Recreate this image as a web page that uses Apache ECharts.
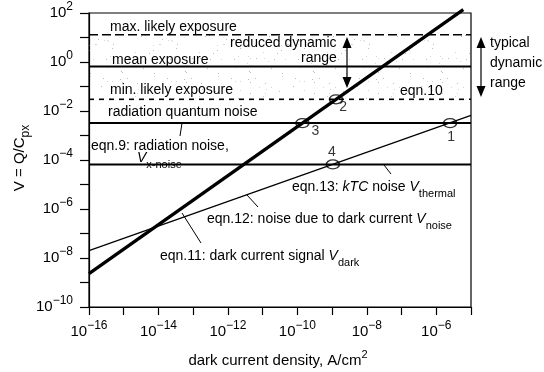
<!DOCTYPE html>
<html><head><meta charset="utf-8">
<script src="https://cdn.jsdelivr.net/npm/echarts@6/dist/echarts.min.js"></script>
<style>html,body{margin:0;padding:0;background:#fff}#c{width:544px;height:372px}</style>
</head><body><div id="c"></div>
<script>
// ---- data ----
const xRange = [1e-16, 1e-5];           // dark current density, A/cm2
const yRange = [1e-10, 1e2];            // V = Q/Cpx
const levelNames = ['max. likely exposure', 'mean exposure', 'min. likely exposure', 'radiation quantum noise', 'kTC noise'];
const levelValues = [13, 0.66, 0.03, 0.0032, 6.6e-5];
const darkSignalDensity = [1e-16, 6.0e-6];
const darkSignalValues = [2.3e-9, 138];
const darkNoiseDensity = [1e-16, 1e-5];
const darkNoiseValues = [2.0e-8, 6.6e-3];
const crossingLabels = ['1', '2', '3', '4'];
const crossingDensity = [2.5e-6, 1.3e-9, 1.4e-10, 1.05e-9];
const crossingValues = [3.2e-3, 0.03, 3.2e-3, 6.6e-5];

// ---- styling ----
const FONT = '"Liberation Sans", Arial, sans-serif';
const levelStyles = [
  {type: [9, 4], width: 1.6},
  {type: 'solid', width: 2},
  {type: [5, 5], width: 1.6},
  {type: 'solid', width: 2},
  {type: 'solid', width: 2}
];
const crossingLabelOffsets = [[1, 14], [7, 8], [13, 8], [-1, -12]];

const L = Math.log10;
const chart = echarts.init(document.getElementById('c'), null, {renderer: 'canvas'});

// stipple pattern for exposure band
const pat = document.createElement('canvas');
pat.width = 64; pat.height = 64;
(function () {
  const g = pat.getContext('2d');
  let s = 7;
  function r() { s = (s * 16807) % 2147483647; return s / 2147483647; }
  for (let i = 0; i < 50; i++) {
    g.fillStyle = r() < 0.5 ? 'rgba(120,120,120,0.5)' : 'rgba(150,150,150,0.4)';
    g.fillRect(Math.floor(r() * 64), Math.floor(r() * 64), 1, 1);
  }
})();

const supRich = {
  b: {fontFamily: FONT, fontSize: 15, lineHeight: 24, color: '#000'},
  s: {fontFamily: FONT, fontSize: 12, lineHeight: 11, verticalAlign: 'top', color: '#000'}
};
function powLabel(v) {
  const e = Math.round(v);
  if (e % 2 !== 0) return '';
  return '{b|10}{s|' + (e < 0 ? '\u2212' + (-e) : e) + '}';
}

const series = [];
levelValues.forEach((v, i) => {
  const s = {
    type: 'line', name: levelNames[i], silent: true, symbol: 'none',
    data: [[L(xRange[0]), L(v)], [L(xRange[1]), L(v)]],
    lineStyle: {color: '#000', width: levelStyles[i].width, type: levelStyles[i].type},
    z: 3
  };
  if (i === 0) {
    s.markArea = {
      silent: true,
      itemStyle: {color: {image: pat, repeat: 'repeat'}},
      data: [[{yAxis: L(levelValues[0])}, {yAxis: L(levelValues[2])}]]
    };
  }
  series.push(s);
});
series.push({
  type: 'line', name: 'dark current signal', symbol: 'none', clip: false, z: 4,
  data: darkSignalDensity.map((d, i) => [L(d), L(darkSignalValues[i])]),
  lineStyle: {color: '#000', width: 3.3}
});
series.push({
  type: 'line', name: 'dark current noise', symbol: 'none', z: 4,
  data: darkNoiseDensity.map((d, i) => [L(d), L(darkNoiseValues[i])]),
  lineStyle: {color: '#000', width: 1.2}
});
series.push({
  type: 'scatter', name: 'crossings', symbol: 'circle', symbolSize: [13, 9], z: 6,
  itemStyle: {color: 'rgba(255,255,255,0)', borderColor: '#000', borderWidth: 1.4},
  data: crossingDensity.map((d, i) => ({
    value: [L(d), L(crossingValues[i])],
    label: {show: true, formatter: crossingLabels[i], position: 'inside', offset: crossingLabelOffsets[i],
      fontFamily: FONT, fontSize: 14, color: '#000'}
  }))
});

// annotation graphics
const txt = (x, y, text, rich, extra) => Object.assign({
  type: 'text', x: x, y: y, z: 20,
  style: Object.assign({text: text, fontFamily: FONT, fontSize: 14, fill: '#000',
    verticalAlign: 'middle', align: 'left', rich: rich || {}}, extra || {})
}, {});
const ln = (x1, y1, x2, y2, w) => ({type: 'line', z: 20,
  shape: {x1: x1, y1: y1, x2: x2, y2: y2}, style: {stroke: '#000', lineWidth: w || 1}});
const arrow = (x, yTop, yBot) => [
  ln(x, yTop + 9, x, yBot - 9, 1.2),
  {type: 'polygon', z: 20, shape: {points: [[x, yTop], [x - 4.5, yTop + 11], [x + 4.5, yTop + 11]]}, style: {fill: '#000'}},
  {type: 'polygon', z: 20, shape: {points: [[x, yBot], [x - 4.5, yBot - 11], [x + 4.5, yBot - 11]]}, style: {fill: '#000'}}
];
const annRich = {
  n: {fontFamily: FONT, fontSize: 14, lineHeight: 24, color: '#000'},
  i: {fontFamily: FONT, fontSize: 14, lineHeight: 24, fontStyle: 'italic', color: '#000'},
  sub: {fontFamily: FONT, fontSize: 11, lineHeight: 13, verticalAlign: 'bottom', color: '#000'},
  sup: {fontFamily: FONT, fontSize: 11, lineHeight: 12, verticalAlign: 'top', color: '#000'}
};

const graphics = [
  txt(110, 27, levelNames[0]),
  txt(230, 43, 'reduced dynamic'),
  txt(301, 58, 'range'),
  txt(112, 60, levelNames[1]),
  txt(110, 90, levelNames[2]),
  txt(400, 91, 'eqn.10'),
  txt(108, 112, levelNames[3]),
  txt(91, 146, 'eqn.9: radiation noise,'),
  txt(137, 158, '{i|V}{sub|x-noise}', annRich),
  txt(292, 187, '{n|eqn.13: }{i|kTC}{n| noise }{i|V}{sub|thermal}', annRich),
  txt(207, 219, '{n|eqn.12: noise due to dark current }{i|V}{sub|noise}', annRich),
  txt(160, 256, '{n|eqn.11: dark current signal }{i|V}{sub|dark}', annRich),
  txt(490, 43, 'typical'),
  txt(490, 63, 'dynamic'),
  txt(490, 83, 'range'),
  ln(180, 136, 182, 123),
  ln(384, 165, 391, 174),
  ln(247, 195, 258, 207),
  ln(182, 213, 201, 243),
  {type: 'text', x: 20, y: 158, rotation: Math.PI / 2, z: 20,
    style: {text: '{n|V = Q/C}{sub|px}', align: 'center', verticalAlign: 'middle',
      rich: {
        n: {fontFamily: FONT, fontSize: 15, lineHeight: 24, color: '#000'},
        sub: {fontFamily: FONT, fontSize: 12, lineHeight: 13, verticalAlign: 'bottom', color: '#000'}
      }}},
  {type: 'text', x: 278, y: 361, z: 20,
    style: {text: '{n|dark current density, A/cm}{sup|2}', align: 'center', verticalAlign: 'middle',
      rich: {
        n: {fontFamily: FONT, fontSize: 15, lineHeight: 24, color: '#000'},
        sup: {fontFamily: FONT, fontSize: 11, lineHeight: 12, verticalAlign: 'top', color: '#000'}
      }}}
].concat(arrow(347, 37, 88)).concat(arrow(481, 37, 97));

chart.setOption({
  animation: false,
  backgroundColor: '#fff',
  grid: {left: 89, right: 73, top: 13, bottom: 65, show: true, borderColor: '#000', borderWidth: 1.2, containLabel: false},
  xAxis: {
    type: 'value', min: L(xRange[0]), max: L(xRange[1]), interval: 1,
    axisLine: {show: true, onZero: false, lineStyle: {color: '#000', width: 1.2}},
    axisTick: {show: true, inside: false, length: 8, lineStyle: {color: '#000', width: 1.2}},
    axisLabel: {formatter: powLabel, rich: supRich, margin: 13, verticalAlign: 'top', showMinLabel: true, showMaxLabel: true},
    splitLine: {show: false}
  },
  yAxis: {
    type: 'value', min: L(yRange[0]), max: L(yRange[1]), interval: 1,
    axisLine: {show: true, onZero: false, lineStyle: {color: '#000', width: 1.2}},
    axisTick: {show: true, inside: false, length: 9, lineStyle: {color: '#000', width: 1.2}},
    axisLabel: {formatter: powLabel, rich: supRich, margin: 16, showMinLabel: true, showMaxLabel: true},
    splitLine: {show: false}
  },
  series: series,
  graphic: graphics
});
</script></body></html>
